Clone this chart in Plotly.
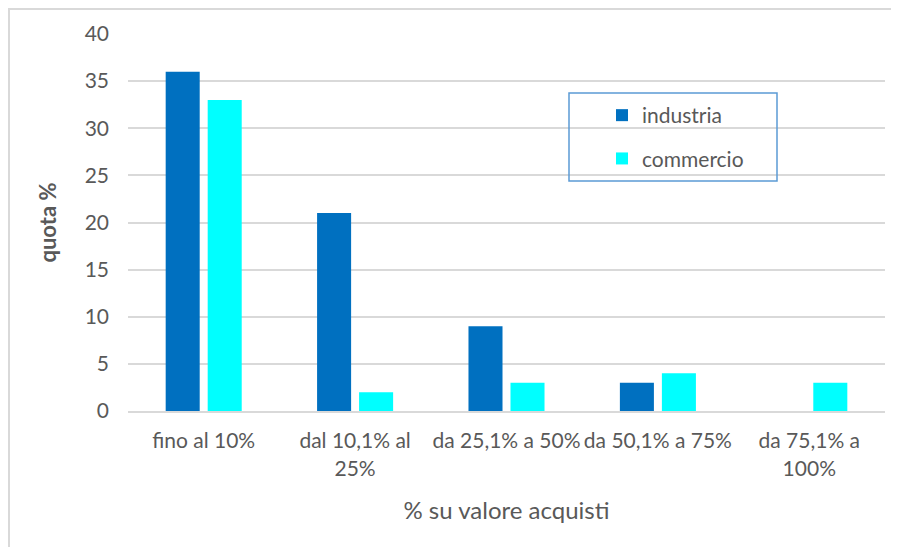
import plotly.graph_objects as go

categories = ["fino al 10%", "dal 10,1% al<br>25%", "da 25,1% a 50%", "da 50,1% a 75%", "da 75,1% a<br>100%"]
industria = [36, 21, 9, 3, 0]
commercio = [33, 2, 3, 4, 3]
y_ticks = [0, 5, 10, 15, 20, 25, 30, 35, 40]

OFF = 8  # default page body margin
W, H = 899 - OFF, 547 - OFF
L, R, T, B = 120, 14, 26, 136
FONT = "Lato, Carlito, Calibri, sans-serif"
GRAY = "#595959"

fig = go.Figure()
fig.add_trace(go.Bar(name="industria", x=categories, y=industria,
                     marker=dict(color="#0070C0", line=dict(width=0)), legendgroup="a"))
fig.add_trace(go.Bar(name="commercio", x=categories, y=commercio,
                     marker=dict(color="#00FFFF", line=dict(width=0)), legendgroup="b"))

pw = W - L - R
ph = H - T - B
def px(xs):
    return (xs - OFF - L) / pw
def py(ys):
    return (H - B - (ys - OFF)) / ph

fig.update_layout(
    width=W, height=H,
    margin=dict(l=L, r=R, t=T, b=B),
    paper_bgcolor="white", plot_bgcolor="white",
    font=dict(family=FONT, color=GRAY, size=21),
    barmode="group", bargap=0.445, bargroupgap=0.19,
    showlegend=True,
    legend=dict(x=px(602), y=py(95), xanchor="left", yanchor="top",
                bgcolor="rgba(0,0,0,0)", borderwidth=0,
                font=dict(family=FONT, size=21, color=GRAY),
                tracegroupgap=13, traceorder="grouped"),
    xaxis=dict(showgrid=False, showline=True, linecolor="#D9D9D9", linewidth=2,
               ticks="", tickfont=dict(size=21, color=GRAY), ticklabelstandoff=10,
               title=dict(text="% su valore acquisti", font=dict(size=24, color=GRAY), standoff=24)),
    yaxis=dict(range=[0, 40], tickvals=y_ticks, showgrid=True, gridcolor="#D9D9D9", gridwidth=2,
               zeroline=False, showline=False, ticks="", ticklabelstandoff=18,
               tickfont=dict(size=21, color=GRAY),
               title=dict(text="<b>quota %</b>", font=dict(size=22, color=GRAY), standoff=21)),
    shapes=[
        dict(type="rect", xref="paper", yref="paper",
             x0=px(569), x1=px(777), y0=py(181), y1=py(93),
             line=dict(color="#5B9BD5", width=1.5), fillcolor="rgba(0,0,0,0)", layer="above"),
        dict(type="line", xref="paper", yref="paper", x0=px(8), x1=px(910), y0=py(9), y1=py(9),
             line=dict(color="#D9D9D9", width=2)),
        dict(type="line", xref="paper", yref="paper", x0=px(9), x1=px(9), y0=py(8), y1=py(560),
             line=dict(color="#D9D9D9", width=2)),
    ],
)

fig.write_html("out.html")
